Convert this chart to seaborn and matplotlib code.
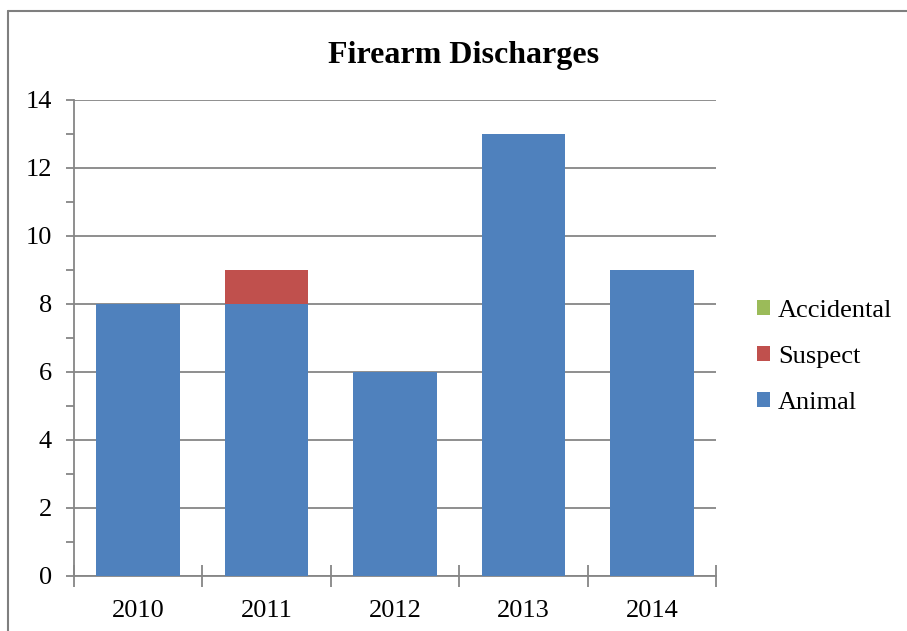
import matplotlib
matplotlib.use("Agg")
import matplotlib.pyplot as plt
from matplotlib.patches import Patch
from matplotlib.lines import Line2D
from matplotlib.ticker import MultipleLocator, FixedLocator, NullFormatter
import numpy as np
import pandas as pd
import seaborn as sns

# Firearm discharges by year and type
years = ["2010", "2011", "2012", "2013", "2014"]
animal = [8, 8, 6, 13, 9]
suspect = [0, 1, 0, 0, 0]
accidental = [0, 0, 0, 0, 0]

series_names = ["Animal", "Suspect", "Accidental"]
series_colors = ["#4F81BD", "#C0504D", "#9BBB59"]

sns.set_theme(style="white")
plt.rcParams["font.family"] = ["Liberation Serif", "DejaVu Serif"]
plt.rcParams["text.color"] = "black"
plt.rcParams["xtick.color"] = "black"
plt.rcParams["ytick.color"] = "black"

fig = plt.figure(figsize=(9.07, 6.31), dpi=100)
ax = fig.add_axes([74 / 907, 1 - 576 / 631, (716 - 74) / 907, (576 - 100) / 631])

df = pd.DataFrame({"year": years, "Animal": animal,
                   "Suspect": suspect, "Accidental": accidental})
# cumulative heights so that overlapping bars form a stack
df["top_animal"] = df["Animal"]
df["top_suspect"] = df["Animal"] + df["Suspect"]
df["top_accidental"] = df["top_suspect"] + df["Accidental"]

grid_color = "#868686"
for col, color in [("top_accidental", series_colors[2]),
                   ("top_suspect", series_colors[1]),
                   ("top_animal", series_colors[0])]:
    sns.barplot(data=df, x="year", y=col, color=color, width=0.65,
                saturation=1, linewidth=0, ax=ax, zorder=3)

ax.set_xlim(-0.5, len(years) - 0.5)
ax.set_ylim(0, 14)
ax.set_xlabel("")
ax.set_ylabel("")

# gridlines and axes
ax.yaxis.set_major_locator(MultipleLocator(2))
ax.yaxis.set_minor_locator(MultipleLocator(1))
ax.grid(axis="y", which="major", color=grid_color, linewidth=1.3, zorder=0)
ax.set_axisbelow(True)
for side in ["top", "right"]:
    ax.spines[side].set_visible(False)
for side in ["left", "bottom"]:
    ax.spines[side].set_color(grid_color)
    ax.spines[side].set_linewidth(1.3)

ax.tick_params(axis="y", which="both", direction="out", length=6,
               width=1.3, color=grid_color, labelsize=19, pad=10,
               labelcolor="black", left=True)
ax.xaxis.set_minor_locator(FixedLocator(np.arange(-0.5, len(years), 1.0)))
ax.xaxis.set_minor_formatter(NullFormatter())
ax.tick_params(axis="x", which="major", length=0, labelsize=19, pad=17,
               labelcolor="black")
ax.tick_params(axis="x", which="minor", direction="inout", length=16,
               width=1.3, color=grid_color, bottom=True)

# title
fig.text(464 / 907, 1 - 63 / 631, "Firearm Discharges", ha="center",
         va="baseline", fontsize=23, fontweight="bold", color="black")

# legend (reverse stack order)
handles = [Patch(facecolor=c, edgecolor="none") for c in series_colors][::-1]
labels = series_names[::-1]
leg = fig.legend(handles, labels, loc="center left",
                 bbox_to_anchor=(757 / 907, 1 - 357 / 631), frameon=False,
                 fontsize=19, handlelength=0.5, handleheight=0.5,
                 handletextpad=0.3, labelspacing=0.9, borderpad=0,
                 borderaxespad=0)
for t in leg.get_texts():
    t.set_color("black")

# outer chart border (top and left edges)
fig.add_artist(Line2D([8 / 907, 1], [1 - 11 / 631, 1 - 11 / 631],
                      color="#7f7f7f", linewidth=1.5,
                      transform=fig.transFigure))
fig.add_artist(Line2D([8 / 907, 8 / 907], [0, 1 - 11 / 631],
                      color="#7f7f7f", linewidth=1.5,
                      transform=fig.transFigure))

fig.savefig("out.png", dpi=100)
